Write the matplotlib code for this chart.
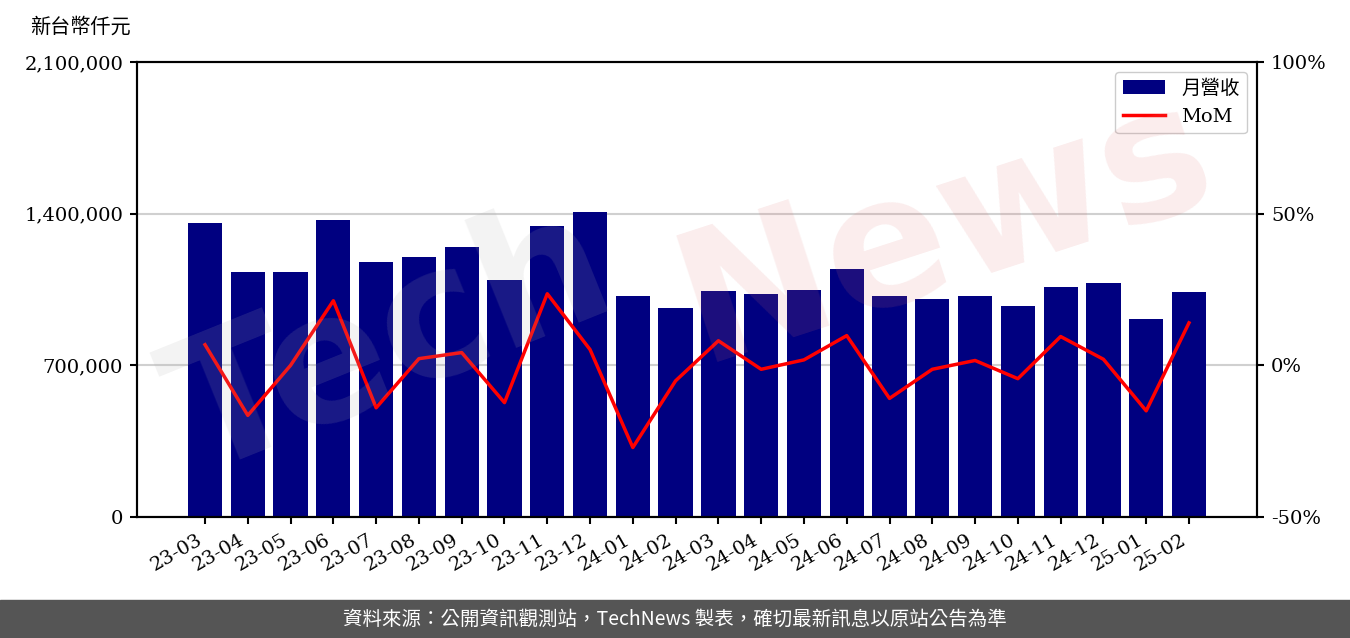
import matplotlib
matplotlib.use("Agg")
import matplotlib.pyplot as plt
import numpy as np

plt.rcParams['font.family'] = ['DejaVu Serif', 'Noto Sans CJK TC']

months = ["23-03", "23-04", "23-05", "23-06", "23-07", "23-08", "23-09", "23-10",
          "23-11", "23-12", "24-01", "24-02", "24-03", "24-04", "24-05", "24-06",
          "24-07", "24-08", "24-09", "24-10", "24-11", "24-12", "25-01", "25-02"]
revenue = [1357000, 1131000, 1131000, 1371000, 1177000, 1200000, 1246000, 1094000,
           1343000, 1408000, 1020000, 965000, 1043000, 1029000, 1048000, 1145000,
           1020000, 1006000, 1020000, 974000, 1062000, 1080000, 914000, 1039000]
mom = [6.8, -16.5, 0.0, 21.3, -14.0, 2.2, 4.2, -12.3,
       23.6, 5.2, -27.1, -5.1, 8.1, -1.3, 1.8, 9.8,
       -10.9, -1.3, 1.6, -4.4, 9.5, 2.0, -15.0, 14.0]

fig = plt.figure(figsize=(13.5, 6.38), dpi=100)
ax = fig.add_axes([137/1350, 1 - 517/638, 1120/1350, 455/638])
x = np.arange(len(months))

bars = ax.bar(x, revenue, width=0.8, color="#000080", label="月營收", zorder=2)
ax.set_ylim(0, 2100000)
ax.set_yticks([0, 700000, 1400000, 2100000])
ax.set_yticklabels(["0", "700,000", "1,400,000", "2,100,000"], fontsize=14)
ax.set_xlim(-1.59, len(months) - 1 + 1.59)
ax.set_xticks(x)
ax.set_xticklabels(months, rotation=30, ha="right", fontsize=14)
ax.tick_params(axis="both", length=5, width=1.5, pad=5)
ax.grid(axis="y", color="#d0d0d0", linewidth=1.5, zorder=0)
ax.set_axisbelow(True)
for s in ax.spines.values():
    s.set_linewidth(1.5)

ax2 = ax.twinx()
line, = ax2.plot(x, mom, color="red", linewidth=2.5, label="MoM", zorder=3)
ax2.set_ylim(-50, 100)
ax2.set_yticks([-50, 0, 50, 100])
ax2.set_yticklabels(["-50%", "0%", "50%", "100%"], fontsize=14)
ax2.tick_params(axis="y", length=5, width=1.5, pad=5)
for s in ax2.spines.values():
    s.set_linewidth(1.5)

ax2.legend([bars, line], ["月營收", "MoM"], loc="upper right", fontsize=14,
           handlelength=2.2, borderpad=0.4, framealpha=1)

# watermark
fig.text(0.29, 0.46, "Tech", fontsize=130, fontweight="bold", color="#b0b0b0",
         alpha=0.15, rotation=22, ha="center", va="center", family="DejaVu Sans")
fig.text(0.70, 0.64, "News", fontsize=130, fontweight="bold", color="#e07070",
         alpha=0.13, rotation=18, ha="center", va="center", family="DejaVu Sans")

fig.text(30/1350, 1 - 27/638, "新台幣仟元", fontsize=14.5, va="center", ha="left")

# footer
fig.patches.append(plt.Rectangle((0, 0), 1, 38/638, transform=fig.transFigure,
                                 color="#555555", zorder=0))
fig.text(0.5, 19/638, "資料來源：公開資訊觀測站，TechNews 製表，確切最新訊息以原站公告為準",
         color="white", fontsize=14, ha="center", va="center",
         family=["Noto Sans CJK TC", "DejaVu Sans"])

fig.savefig("out.png", dpi=100)
